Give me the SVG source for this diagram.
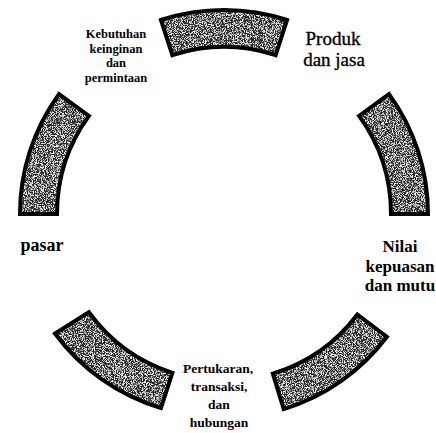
<svg xmlns="http://www.w3.org/2000/svg" width="436" height="433" viewBox="0 0 436 433">
<style>
.lbl{font-family:"Liberation Serif","Times New Roman",serif;fill:#000;text-anchor:middle;font-weight:bold}
.s{font-size:12.5px}
.m{font-size:13.5px}
.l{font-size:17px}
.p{font-size:19px;font-weight:normal;stroke:#000;stroke-width:0.35}
.q{font-size:18px}
.fill{fill:#2a2a2a;stroke:none;filter:url(#grain)}
.edge{fill:none;stroke:#000;stroke-width:4;stroke-linejoin:miter}
</style>
<defs>
<filter id="grain" x="0" y="0" width="1" height="1">
<feTurbulence type="fractalNoise" baseFrequency="1.1" numOctaves="2" seed="4" result="n"/>
<feColorMatrix in="n" type="matrix" values="0 0 0 0 1  0 0 0 0 1  0 0 0 0 1  4.5 0 0 0 -2.1" result="w"/>
<feComposite in="w" in2="SourceGraphic" operator="in" result="wc"/>
<feMerge><feMergeNode in="SourceGraphic"/><feMergeNode in="wc"/></feMerge>
</filter>
</defs>
<rect width="436" height="433" fill="#fff"/>
<g id="connectors">
<g id="arc-top">
<path class="fill" d="M160.96 19.98 A204 204 0 0 1 287.04 19.98 L275.6 55.17 A167 167 0 0 0 172.4 55.17 Z"/>
<path class="edge" d="M160.96 19.98 A204 204 0 0 1 287.04 19.98 L275.6 55.17 A167 167 0 0 0 172.4 55.17 Z"/>
</g>
<g id="arc-right">
<path class="fill" d="M389.04 94.09 A204 204 0 0 1 428 214 L391 214 A167 167 0 0 0 359.1 115.84 Z"/>
<path class="edge" d="M389.04 94.09 A204 204 0 0 1 428 214 L391 214 A167 167 0 0 0 359.1 115.84 Z"/>
</g>
<g id="arc-bottom-right">
<path class="fill" d="M386.91 336.77 A204 204 0 0 1 283.65 409.09 L272.83 373.7 A167 167 0 0 0 357.37 314.5 Z"/>
<path class="edge" d="M386.91 336.77 A204 204 0 0 1 283.65 409.09 L272.83 373.7 A167 167 0 0 0 357.37 314.5 Z"/>
</g>
<g id="arc-bottom-left">
<path class="fill" d="M160.96 408.02 A204 204 0 0 1 55 333.5 L88.9 312.16 A167 167 0 0 0 172.4 372.83 Z"/>
<path class="edge" d="M160.96 408.02 A204 204 0 0 1 55 333.5 L88.9 312.16 A167 167 0 0 0 172.4 372.83 Z"/>
</g>
<g id="arc-left">
<path class="fill" d="M20 214 A204 204 0 0 1 58.96 94.09 L88.9 115.84 A167 167 0 0 0 57 214 Z"/>
<path class="edge" d="M20 214 A204 204 0 0 1 58.96 94.09 L88.9 115.84 A167 167 0 0 0 57 214 Z"/>
</g>
</g>
<g id="node-kebutuhan">
<text class="lbl s" x="116" y="38">Kebutuhan</text>
<text class="lbl s" x="116" y="52.5">keinginan</text>
<text class="lbl s" x="116" y="67">dan</text>
<text class="lbl s" x="116" y="81.5">permintaan</text>
</g>
<g id="node-produk">
<text class="lbl p" x="333" y="45">Produk</text>
<text class="lbl p" x="334" y="66">dan jasa</text>
</g>
<g id="node-nilai">
<text class="lbl l" x="400" y="252">Nilai</text>
<text class="lbl l" x="400" y="272">kepuasan</text>
<text class="lbl l" x="400" y="291">dan mutu</text>
</g>
<g id="node-pertukaran">
<text class="lbl m" x="218" y="373">Pertukaran,</text>
<text class="lbl m" x="219" y="391">transaksi,</text>
<text class="lbl m" x="219" y="409">dan</text>
<text class="lbl m" x="219" y="427">hubungan</text>
</g>
<g id="node-pasar">
<text class="lbl q" x="42" y="251">pasar</text>
</g>
</svg>
